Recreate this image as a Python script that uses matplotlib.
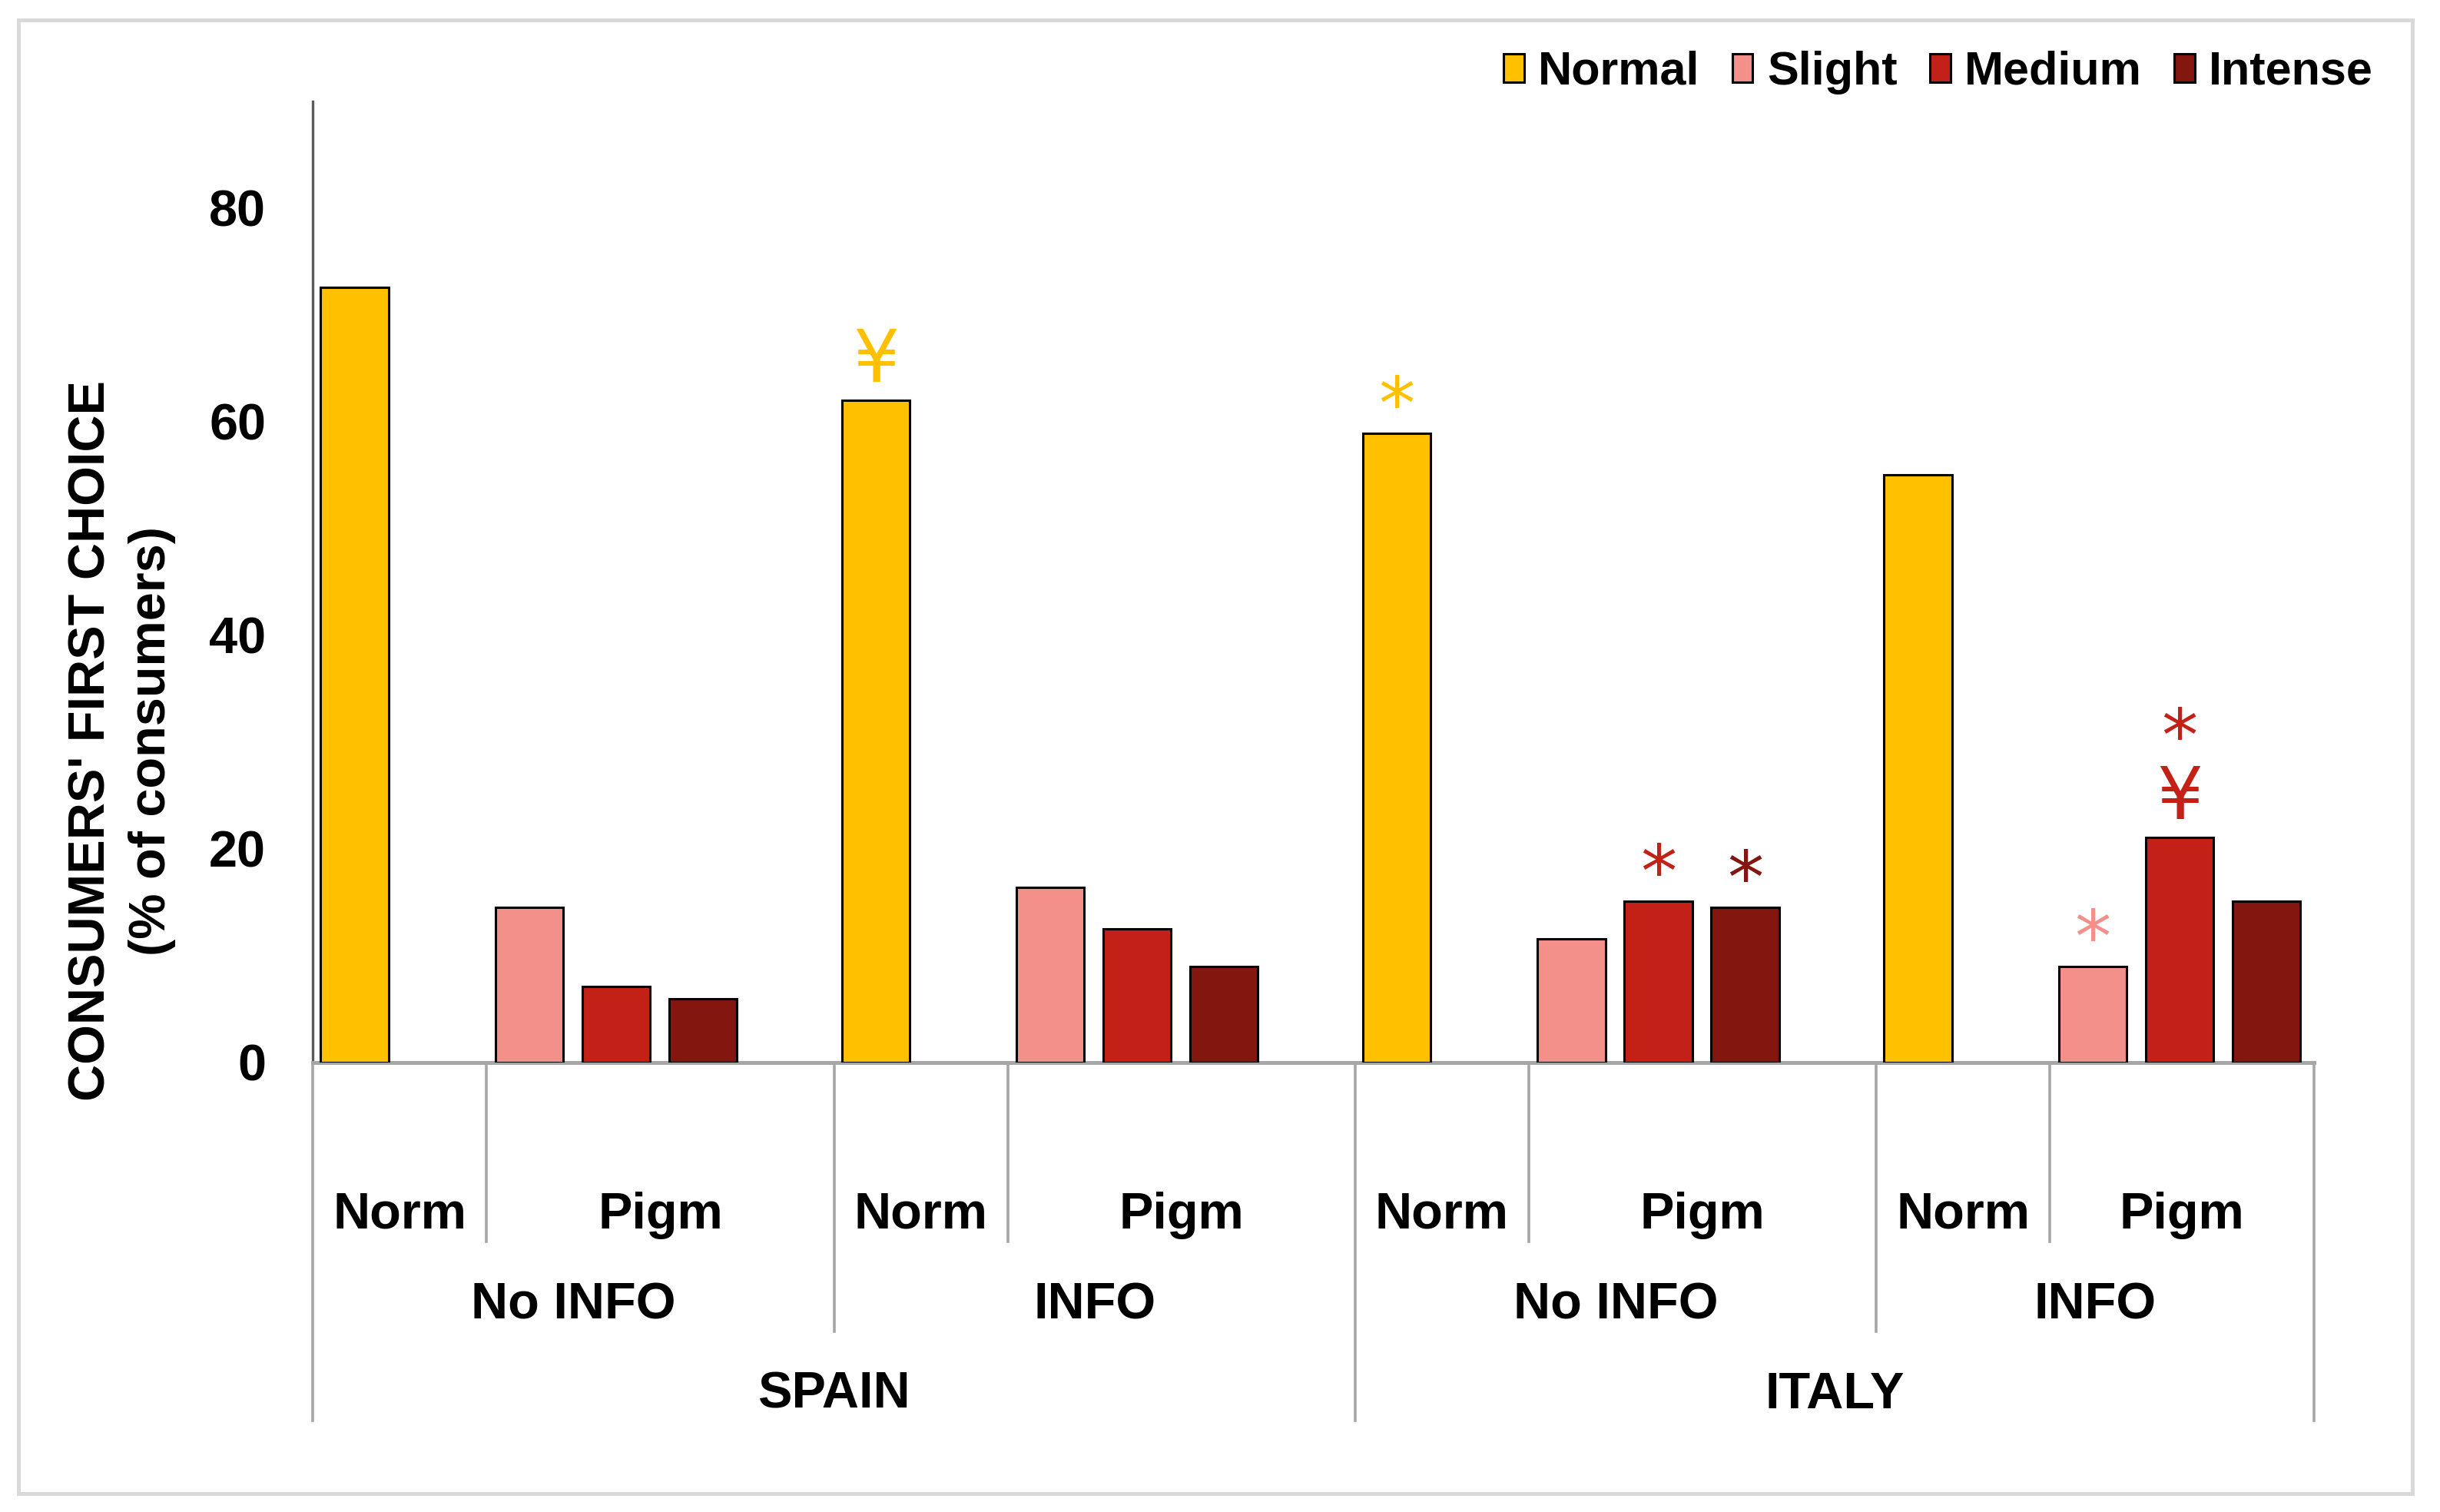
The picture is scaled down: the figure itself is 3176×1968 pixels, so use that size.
import matplotlib
matplotlib.use('Agg')
import matplotlib.pyplot as plt
from matplotlib.patches import Rectangle
from matplotlib.transforms import blended_transform_factory

plt.rcParams['font.family'] = ['Liberation Sans', 'DejaVu Sans']
plt.rcParams['font.weight'] = 'bold'

# data: one value per block (Spain No INFO, Spain INFO, Italy No INFO, Italy INFO)
countries = ['SPAIN', 'ITALY']
info_levels = ['No INFO', 'INFO']
groups = ['Norm', 'Pigm']
series = ['Normal', 'Slight', 'Medium', 'Intense']
normal = [72.6, 62.0, 58.9, 55.0]
slight = [14.5, 16.4, 11.6, 9.0]
medium = [7.1, 12.5, 15.1, 21.1]
intense = [6.0, 9.0, 14.5, 15.1]

# significance marks: (block, series index, symbols top to bottom)
marks = [(1, 0, '¥'), (2, 0, '*'), (2, 2, '*'), (2, 3, '*'), (3, 1, '*'), (3, 2, '*\n¥')]

colors = ['#FFC000', '#F4908A', '#C32117', '#83160F']
values = [normal, slight, medium, intense]

fig = plt.figure(figsize=(15.88, 9.84), dpi=200)
ax = fig.add_axes([0.1282, 0.2973, 0.8202, 0.6357])

# bar layout inside each block of 3 units
offsets = [0.24, 1.245, 1.745, 2.245]
width = 0.39
xmax = 11.52
nblocks = len(normal)

for s, name in enumerate(series):
    xs = [3 * b + offsets[s] for b in range(nblocks)]
    ax.bar(xs, values[s], width, color=colors[s], edgecolor='black',
           linewidth=1.1, label=name, zorder=3)

ax.set_xlim(0, xmax)
ax.set_ylim(0, 90)
ax.set_yticks([0, 20, 40, 60, 80])
ax.set_xticks([])
ax.tick_params(axis='y', length=0, pad=22, labelsize=24)
for sp in ['top', 'right']:
    ax.spines[sp].set_visible(False)
ax.spines['left'].set_color('#5a5a5a')
ax.spines['left'].set_linewidth(1.2)
ax.spines['bottom'].set_color('#a6a6a6')
ax.spines['bottom'].set_linewidth(1.8)

# significance symbols above bars (bottom symbol decides the baseline)
sym_size = 34
first_gap = {'*': 17.5, '¥': 21.0}
ink_center = {'*': 0.45, '¥': 0.365}
for b, s, syms in marks:
    x = 3 * b + offsets[s]
    y = values[s][b]
    bottom = syms[-1]
    ax.annotate(syms, xy=(x, y), xytext=(0, first_gap[bottom] - ink_center[bottom] * sym_size),
                textcoords='offset points', ha='center', va='baseline',
                fontsize=sym_size, color=colors[s], family=['DejaVu Sans'],
                fontweight='normal', linespacing=0.78, annotation_clip=False)

# multi-level category axis
trans = blended_transform_factory(ax.transData, ax.transAxes)
sep_kw = dict(color='#a6a6a6', linewidth=1.3, transform=trans, clip_on=False)
y_short, y_mid, y_long = -0.186, -0.280, -0.3725
y_grp, y_info, y_cty = -0.159, -0.253, -0.346
lab_kw = dict(transform=trans, ha='center', va='center', fontsize=24)

for c, country in enumerate(countries):
    c0 = 6 * c
    c1 = min(c0 + 6, xmax)
    ax.plot([c0, c0], [0, y_long], **sep_kw)
    ax.text((c0 + c1) / 2, y_cty, country, **lab_kw)
    for i, info in enumerate(info_levels):
        b0 = c0 + 3 * i
        b1 = min(b0 + 3, xmax)
        if i > 0:
            ax.plot([b0, b0], [0, y_mid], **sep_kw)
        ax.plot([b0 + 1, b0 + 1], [0, y_short], **sep_kw)
        ax.text(b0 + 0.5, y_grp, groups[0], **lab_kw)
        ax.text((b0 + 1 + b1) / 2, y_grp, groups[1], **lab_kw)
        ax.text((b0 + b1) / 2, y_info, info, **lab_kw)
ax.plot([xmax, xmax], [0, y_long], **sep_kw)

fig.text(0.050, 0.510, "CONSUMERS' FIRST CHOICE\n(% of consumers)", rotation=90,
         ha='center', va='center', fontsize=24, linespacing=1.35, multialignment='center')

ax.legend(loc='center right', bbox_to_anchor=(0.9726, 0.952), bbox_transform=fig.transFigure,
          ncol=4, frameon=False, fontsize=22, handlelength=0.44, handleheight=0.57,
          handletextpad=0.3, columnspacing=0.69, borderpad=0, borderaxespad=0)

fig.patches.append(Rectangle((0.0076, 0.0122), 0.9811, 0.9746, transform=fig.transFigure,
                             fill=False, edgecolor='#d9d9d9', linewidth=1.8))

fig.savefig('out.png', dpi=200, facecolor='white')
